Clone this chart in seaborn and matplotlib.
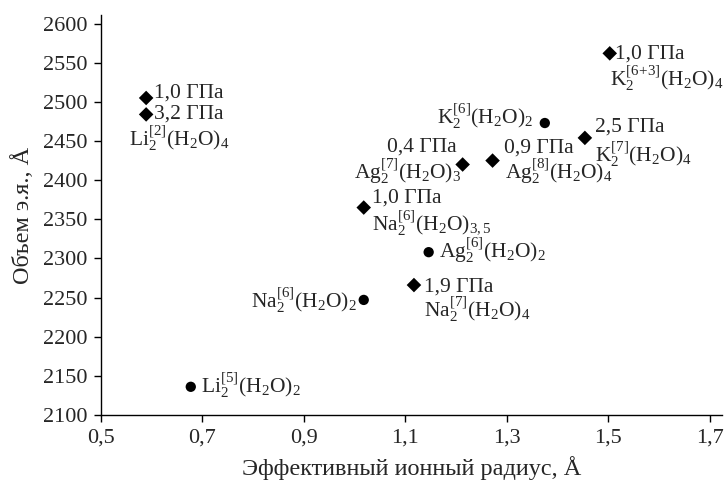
import matplotlib
matplotlib.use("Agg")
import matplotlib.pyplot as plt
import seaborn as sns
import pandas as pd

# ---- data ----
radius = [0.589, 0.589, 0.677, 1.018, 1.018, 1.117, 1.146, 1.213, 1.272, 1.375, 1.454, 1.503]
volume = [2505, 2484, 2136, 2247, 2365, 2266, 2308, 2420, 2425, 2473, 2454, 2562]
kind = ["d", "d", "o", "o", "d", "d", "o", "d", "d", "o", "d", "d"]
pressure = ["1,0 ГПа", "3,2 ГПа", "", "", "1,0 ГПа", "1,9 ГПа", "", "0,4 ГПа", "0,9 ГПа", "", "2,5 ГПа", "1,0 ГПа"]
formula = [
    "",
    r"$\mathrm{Li_2^{[2]}(H_2O)_4}$",
    r"$\mathrm{Li_2^{[5]}(H_2O)_2}$",
    r"$\mathrm{Na_2^{[6]}(H_2O)_2}$",
    r"$\mathrm{Na_2^{[6]}(H_2O)_{3,5}}$",
    r"$\mathrm{Na_2^{[7]}(H_2O)_4}$",
    r"$\mathrm{Ag_2^{[6]}(H_2O)_2}$",
    r"$\mathrm{Ag_2^{[7]}(H_2O)_3}$",
    r"$\mathrm{Ag_2^{[8]}(H_2O)_4}$",
    r"$\mathrm{K_2^{[6]}(H_2O)_2}$",
    r"$\mathrm{K_2^{[7]}(H_2O)_4}$",
    r"$\mathrm{K_2^{[6\!+\!3]}(H_2O)_4}$",
]
xticks = [0.5, 0.7, 0.9, 1.1, 1.3, 1.5, 1.7]
xticklabels = ["0,5", "0,7", "0,9", "1,1", "1,3", "1,5", "1,7"]
yticks = [2100, 2150, 2200, 2250, 2300, 2350, 2400, 2450, 2500, 2550, 2600]

# label placement (offset pixels, alignment)
p_off = [(8, 0, "left"), (8, -4, "left"), None, None, (8, 5, "left"), (10, -6, "left"),
         None, (-6, 13, "right"), (11, 8, "left"), None, (10, 6, "left"), (5, -5, "left")]
f_off = [None, (-17, -31, "left"), (10, -6, "left"), (-7, -8, "right"), (8, -22, "left"),
         (10, -32, "left"), (10, -6, "left"), (-1, -14, "right"), (12, -18, "left"),
         (-12, -1, "right"), (10, -24, "left"), (0, -32, "left")]

sns.set_style("ticks")
plt.rcParams["font.family"] = ["Liberation Serif", "DejaVu Serif"]
plt.rcParams["mathtext.fontset"] = "custom"
plt.rcParams["mathtext.rm"] = "Liberation Serif"
plt.rcParams["mathtext.it"] = "Liberation Serif:italic"
plt.rcParams["mathtext.bf"] = "Liberation Serif:bold"

df = pd.DataFrame({"r": radius, "v": volume, "k": kind})

fig = plt.figure(figsize=(7.24, 4.84), dpi=100)
ax = fig.add_axes([0.1395, 0.1426, 0.8575, 0.8264])

sns.scatterplot(data=df, x="r", y="v", style="k", markers={"o": "o", "d": "D"},
                color="black", s=55, edgecolor="black", linewidth=0, legend=False, ax=ax)

fs = 15.5
for i in range(len(radius)):
    if p_off[i]:
        dx, dy, ha = p_off[i]
        ax.annotate(pressure[i], (radius[i], volume[i]), xytext=(dx, dy),
                    textcoords="offset pixels", ha=ha, va="baseline", fontsize=fs)
    if f_off[i]:
        dx, dy, ha = f_off[i]
        ax.annotate(formula[i], (radius[i], volume[i]), xytext=(dx, dy),
                    textcoords="offset pixels", ha=ha, va="baseline", fontsize=fs)

ax.set_xlim(0.5, 1.724)
ax.set_ylim(2100, 2611)
ax.set_xticks(xticks)
ax.set_xticklabels(xticklabels)
ax.set_yticks(yticks)
ax.tick_params(labelsize=16, length=5, width=1, color="black", direction="out", pad=5)
ax.set_xlabel("Эффективный ионный радиус, Å", fontsize=17.5, labelpad=6)
ax.set_ylabel("Объем э.я., Å", fontsize=17.5, labelpad=6)
for s in ["top", "right"]:
    ax.spines[s].set_visible(False)
for s in ["left", "bottom"]:
    ax.spines[s].set_color("black")
    ax.spines[s].set_linewidth(1)

fig.savefig("out.png", dpi=100)
